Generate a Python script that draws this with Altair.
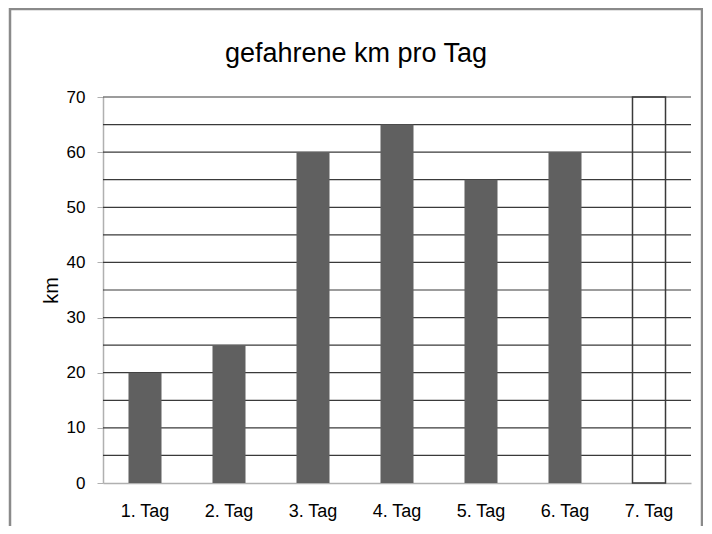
import altair as alt
import pandas as pd

days = ["1. Tag", "2. Tag", "3. Tag", "4. Tag", "5. Tag", "6. Tag", "7. Tag"]
km = [20, 25, 60, 65, 55, 60, None]
outline_days = ["7. Tag"]
outline_km = [70]
grid_values = [5, 10, 15, 20, 25, 30, 35, 40, 45, 50, 55, 60, 65, 70]
tick_values = [0, 10, 20, 30, 40, 50, 60, 70]
title_text = "gefahrene km pro Tag"

df = pd.DataFrame({"day": days, "km": km})
df_out = pd.DataFrame({"day": outline_days, "km": outline_km})
df_grid = pd.DataFrame({"g": grid_values})

FONT = "Liberation Sans, Arial, sans-serif"

x = alt.X("day:N", sort=days, title=None,
          scale=alt.Scale(domain=days, paddingInner=0.607, paddingOuter=0.3035),
          axis=alt.Axis(labelAngle=0, ticks=False, labelPadding=19, labelFontSize=18,
                        labelFont=FONT, labelColor="#000", domainColor="#b0b0b0",
                        domainWidth=1.5))
yscale = alt.Scale(domain=[0, 70], nice=False)

grid = alt.Chart(df_grid).mark_rule(color="#3a3a3a", strokeWidth=1.2).encode(
    y=alt.Y("g:Q", scale=yscale, title="km",
            axis=alt.Axis(values=tick_values, grid=False, tickSize=6, tickColor="#b0b0b0",
                          domainColor="#b0b0b0", domainWidth=1.5, labelFontSize=17,
                          labelFont=FONT, labelColor="#000", labelPadding=12,
                          titleFontSize=20, titleFont=FONT, titleFontWeight="normal",
                          titleColor="#000", titlePadding=5)),
    x=alt.value(0), x2=alt.value(588)
)

bars = alt.Chart(df).mark_bar(color="#606060").encode(
    x=x, y=alt.Y("km:Q", scale=yscale)
)

outline = alt.Chart(df_out).mark_bar(fill="transparent", stroke="#3a3a3a", strokeWidth=1.5).encode(
    x=alt.X("day:N", sort=days), y=alt.Y("km:Q", scale=yscale)
)

frame = alt.Chart(pd.DataFrame({"a": [0]})).mark_rect(
    fill="transparent", stroke="#8a8a8a", strokeWidth=2.5
).encode(x=alt.value(-93), x2=alt.value(599), y=alt.value(-88), y2=alt.value(500))

title = alt.Chart(pd.DataFrame({"t": [title_text]})).mark_text(
    font=FONT, fontSize=27, color="#000", align="center", baseline="alphabetic"
).encode(text="t:N", x=alt.value(253), y=alt.value(-35))

chart = alt.layer(grid, bars, outline, frame, title).properties(
    width=588, height=386,
    autosize=alt.AutoSizeParams(type="none"),
    padding={"left": 95, "top": 89, "right": 12, "bottom": 43},
).configure_view(stroke=None)

chart.save("out.html", embed_options={"renderer": "svg", "actions": False})
